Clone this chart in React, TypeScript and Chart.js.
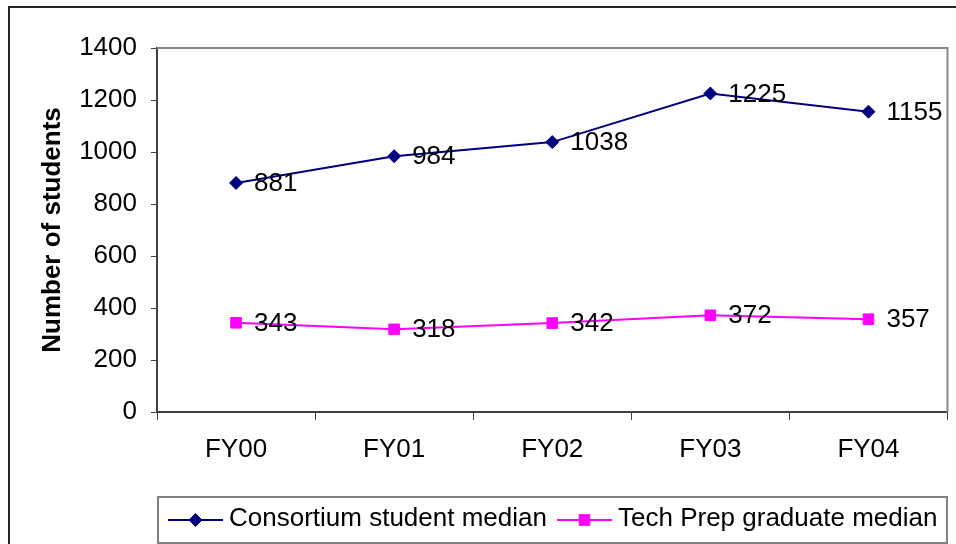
import React, { useEffect, useRef } from "react";
import { Chart, registerables } from "chart.js";

Chart.register(...registerables);

const categories = ["FY00", "FY01", "FY02", "FY03", "FY04"];
const consortiumMedian = [881, 984, 1038, 1225, 1155];
const techPrepMedian = [343, 318, 342, 372, 357];
const seriesNames = ["Consortium student median", "Tech Prep graduate median"];
const yAxisTitle = "Number of students";

const FONT = "Arial, 'Liberation Sans', sans-serif";
const FS = 26;
const NAVY = "#000080";
const MAGENTA = "#FF00FF";

const decorPlugin = {
  id: "decor",
  beforeDraw(chart: any) {
    const { ctx, width, height } = chart;
    ctx.save();
    ctx.fillStyle = "#ffffff";
    ctx.fillRect(0, 0, width, height);
    ctx.strokeStyle = "#222222";
    ctx.lineWidth = 2;
    ctx.beginPath();
    ctx.moveTo(9, height + 2);
    ctx.lineTo(9, 7);
    ctx.lineTo(width + 2, 7);
    ctx.stroke();
    ctx.restore();
  },
  afterDatasetsDraw(chart: any) {
    const { ctx, chartArea } = chart;
    ctx.save();
    ctx.strokeStyle = "#888888";
    ctx.lineWidth = 2;
    ctx.beginPath();
    ctx.moveTo(chartArea.left, chartArea.top);
    ctx.lineTo(chartArea.right, chartArea.top);
    ctx.lineTo(chartArea.right, chartArea.bottom);
    ctx.stroke();

    ctx.fillStyle = "#000000";
    ctx.font = `${FS}px ${FONT}`;
    ctx.textAlign = "left";
    ctx.textBaseline = "middle";
    chart.data.datasets.forEach((ds: any, di: number) => {
      const meta = chart.getDatasetMeta(di);
      meta.data.forEach((pt: any, i: number) => {
        ctx.fillText(String(ds.data[i]), pt.x + 18, pt.y + 1);
      });
    });

    const boxL = 158, boxT = 497, boxR = 947, boxB = 543;
    ctx.strokeStyle = "#808080";
    ctx.lineWidth = 2;
    ctx.strokeRect(boxL, boxT, boxR - boxL, boxB - boxT);
    const items = [
      { x: 168, color: NAVY, style: "rectRot", r: 6.5 },
      { x: 557, color: MAGENTA, style: "rect", r: 7.5 },
    ];
    const ly = 520;
    items.forEach((it, i) => {
      ctx.strokeStyle = it.color;
      ctx.lineWidth = 2;
      ctx.beginPath();
      ctx.moveTo(it.x, ly);
      ctx.lineTo(it.x + 55, ly);
      ctx.stroke();
      ctx.fillStyle = it.color;
      const cx = it.x + 27.5;
      ctx.beginPath();
      if (it.style === "rectRot") {
        ctx.moveTo(cx - it.r, ly);
        ctx.lineTo(cx, ly - it.r);
        ctx.lineTo(cx + it.r, ly);
        ctx.lineTo(cx, ly + it.r);
        ctx.closePath();
      } else {
        const s = it.r * Math.SQRT1_2;
        ctx.rect(cx - s, ly - s, 2 * s, 2 * s);
      }
      ctx.fill();
      ctx.lineWidth = 1;
      ctx.stroke();
      ctx.fillStyle = "#000000";
      ctx.font = `${FS}px ${FONT}`;
      ctx.textAlign = "left";
      ctx.textBaseline = "middle";
      ctx.fillText(seriesNames[i], it.x + 61, ly - 1);
    });
    ctx.restore();
  },
};

export default function App() {
  const ref = useRef<HTMLCanvasElement>(null);
  useEffect(() => {
    document.body.style.margin = "0";
    const canvas = ref.current!;
    const chart = new Chart(canvas, {
      type: "line",
      data: {
        labels: categories,
        datasets: [
          {
            label: seriesNames[0],
            data: consortiumMedian,
            borderColor: NAVY,
            backgroundColor: NAVY,
            borderWidth: 2,
            pointStyle: "rectRot",
            pointRadius: 6.5,
            pointBorderWidth: 1,
            tension: 0,
          },
          {
            label: seriesNames[1],
            data: techPrepMedian,
            borderColor: MAGENTA,
            backgroundColor: MAGENTA,
            borderWidth: 2,
            pointStyle: "rect",
            pointRadius: 7.5,
            pointBorderWidth: 1,
            tension: 0,
          },
        ],
      },
      options: {
        animation: false,
        responsive: false,
        maintainAspectRatio: false,
        layout: { padding: { left: 0, top: 48, right: 6, bottom: 82 } },
        plugins: {
          legend: { display: false },
          tooltip: { enabled: false },
        },
        scales: {
          x: {
            offset: true,
            grid: {
              offset: true,
              drawOnChartArea: false,
              drawTicks: true,
              tickLength: 8,
              color: "#404040",
              lineWidth: 1,
            },
            border: { display: true, color: "#404040", width: 2 },
            ticks: {
              color: "#000000",
              font: { family: FONT, size: FS },
              padding: 14,
              maxRotation: 0,
            },
            afterFit: (s: any) => {
              s.height = 50;
            },
          },
          y: {
            min: 0,
            max: 1400,
            grid: {
              drawOnChartArea: false,
              drawTicks: true,
              tickLength: 6,
              color: "#404040",
              lineWidth: 1,
            },
            border: { display: true, color: "#404040", width: 2 },
            ticks: {
              stepSize: 200,
              color: "#000000",
              font: { family: FONT, size: FS },
              padding: 14,
              callback: (v: any) => String(v),
            },
            title: {
              display: true,
              text: yAxisTitle,
              color: "#000000",
              font: { family: FONT, size: 26, weight: "bold" },
              padding: { top: 37, bottom: 0 },
            },
            afterFit: (s: any) => {
              s.width = 157;
            },
          },
        },
      },
      plugins: [decorPlugin],
    });
    return () => chart.destroy();
  }, []);
  return (
    <canvas
      ref={ref}
      width={956}
      height={544}
      style={{ display: "block", width: 956, height: 544 }}
    />
  );
}
